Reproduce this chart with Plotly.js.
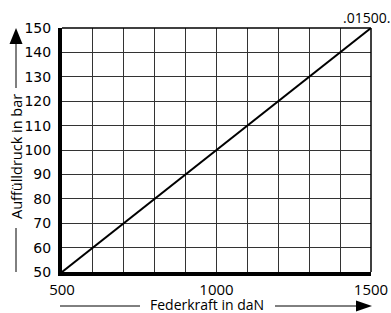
<!DOCTYPE html>
<html>
<head>
<meta charset="utf-8">
<script src="https://cdn.plot.ly/plotly-3.0.1.min.js"></script>
<style>html,body{margin:0;padding:0;background:#fff;}#chart{width:391px;height:313px;}</style>
</head>
<body>
<div id="chart"></div>
<script>
// Data
const federkraft = [500, 1500];          // daN
const auffuelldruck = [50, 150];         // bar
const xGridVals = [500, 600, 700, 800, 900, 1000, 1100, 1200, 1300, 1400, 1500];
const xTickLabels = ['500', '', '', '', '', '1000', '', '', '', '', '1500'];
const yTickVals = [50, 60, 70, 80, 90, 100, 110, 120, 130, 140, 150];
const cornerLabel = '.01500.';
const xTitle = 'Federkraft in daN';
const yTitle = 'Auffülldruck in bar';

const L = 62, R = 371, T = 28, B = 272, W = 391, H = 313;
const px = x => (x - L) / (R - L);
const py = y => (B - y) / (B - T);

const trace = {
  x: federkraft, y: auffuelldruck, type: 'scatter', mode: 'lines',
  line: {color: '#000', width: 2}, hoverinfo: 'none', cliponaxis: false
};

const layout = {
  width: W, height: H,
  margin: {l: L, r: W - R, t: T, b: H - B, pad: 0},
  paper_bgcolor: '#fff', plot_bgcolor: '#fff',
  showlegend: false,
  xaxis: {
    range: [500, 1500],
    showgrid: true, gridcolor: '#333', gridwidth: 1,
    tickmode: 'array', tickvals: xGridVals, ticktext: xTickLabels,
    ticks: '', ticklabelstandoff: 1, showline: true, linecolor: '#000', linewidth: 4,
    zeroline: false, fixedrange: true,
    tickfont: {family: 'Open Sans', size: 15, color: '#000'}
  },
  yaxis: {
    range: [50, 150],
    showgrid: true, gridcolor: '#333', gridwidth: 1,
    tickmode: 'array', tickvals: yTickVals, ticktext: yTickVals.map(String),
    ticks: '', ticklabelstandoff: 4, showline: true, linecolor: '#000', linewidth: 4,
    zeroline: false, fixedrange: true,
    tickfont: {family: 'DejaVu Sans', size: 14, color: '#000'}
  },
  shapes: [
    {type: 'line', xref: 'paper', yref: 'paper', x0: 0, x1: 1, y0: 1, y1: 1, line: {color: '#000', width: 1.5}},
    {type: 'line', xref: 'paper', yref: 'paper', x0: 1, x1: 1, y0: 0, y1: 1, line: {color: '#000', width: 1.5}},
    {type: 'line', xref: 'paper', yref: 'paper', x0: px(16), x1: px(16), y0: py(272), y1: py(228), line: {color: '#000', width: 1}},
    {type: 'line', xref: 'paper', yref: 'paper', x0: px(16), x1: px(16), y0: py(88), y1: py(42), line: {color: '#000', width: 1}},
    {type: 'path', xref: 'paper', yref: 'paper',
      path: `M ${px(16)} ${py(28)} L ${px(9.5)} ${py(44)} L ${px(22.5)} ${py(44)} Z`,
      fillcolor: '#000', line: {color: '#000', width: 0}},
    {type: 'line', xref: 'paper', yref: 'paper', x0: px(60), x1: px(140), y0: py(306), y1: py(306), line: {color: '#000', width: 1}},
    {type: 'line', xref: 'paper', yref: 'paper', x0: px(275), x1: px(358), y0: py(306), y1: py(306), line: {color: '#000', width: 1}},
    {type: 'path', xref: 'paper', yref: 'paper',
      path: `M ${px(372)} ${py(306)} L ${px(356)} ${py(300.5)} L ${px(356)} ${py(311.5)} Z`,
      fillcolor: '#000', line: {color: '#000', width: 0}}
  ],
  annotations: [
    {text: cornerLabel, xref: 'x', yref: 'y', x: 1500, y: 150, xanchor: 'center', yanchor: 'bottom',
      xshift: -5, yshift: -1, showarrow: false, font: {family: 'Open Sans', size: 14, color: '#000'}},
    {text: xTitle, xref: 'paper', yref: 'paper', x: px(207), y: py(304.5), xanchor: 'center', yanchor: 'middle',
      showarrow: false, font: {family: 'Open Sans', size: 14, color: '#000'}},
    {text: yTitle, xref: 'paper', yref: 'paper', x: px(16), y: py(157), xanchor: 'center', yanchor: 'middle',
      textangle: -90, showarrow: false, font: {family: 'Open Sans', size: 14.5, color: '#000'}}
  ]
};

Plotly.newPlot('chart', [trace], layout, {staticPlot: true, displayModeBar: false});
</script>
</body>
</html>
